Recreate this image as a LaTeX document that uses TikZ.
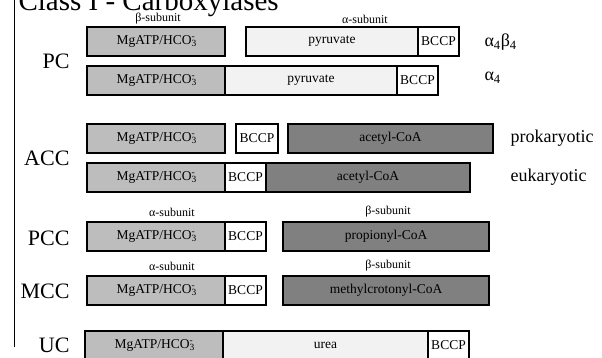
\documentclass[tikz,border=0pt]{standalone}
\usepackage{fontspec}
\setmainfont{Liberation Serif}
\usepackage{xcolor}
\usetikzlibrary{positioning}

\definecolor{mgfill}{gray}{0.74}
\definecolor{ltfill}{gray}{0.95}
\definecolor{dkfill}{gray}{0.50}

\newcommand{\mghco}{MgATP/HCO\rlap{\textsubscript{3}}\textsuperscript{-}}

\begin{document}
\begin{tikzpicture}[x=1pt,y=-1pt,
    dom/.style={draw,rectangle,anchor=north west,inner sep=0pt,outer sep=0pt,
        line width=1.6pt,minimum height=29pt,font=\fontsize{13.5}{15}\selectfont},
    mg/.style={dom,fill=mgfill},
    lt/.style={dom,fill=ltfill},
    bc/.style={dom,fill=white},
    dk/.style={dom,fill=dkfill},
    enz/.style={anchor=east,font=\fontsize{22}{24}\selectfont},
    note/.style={anchor=west,font=\fontsize{18}{20}\selectfont},
    sub/.style={font=\fontsize{12}{13}\selectfont}]

    \useasboundingbox (0,0) rectangle (602,357);

    % Title and margin line
    \node [anchor=base west,font=\fontsize{29}{32}\selectfont] at (15,10) (title) {Class I - Carboxylases};
    \coordinate (ltop) at (14,-2);
    \coordinate (lbot) at (14,347);
    \draw [line width=0.8pt] (ltop) -- (lbot);

    % PC
    \node [enz] at (73,61) (PC) {PC};
    \node [sub] at (158,19) (pcbeta) {β-subunit};
    \node [sub] at (365,19) (pcalpha) {α-subunit};
    \node [mg, minimum width=138pt] at (87,27) (pc1mg) {\mghco};
    \node [lt, minimum width=172pt] at (246,27) (pc1pyr) {pyruvate};
    \node [bc, minimum width=41pt] at (418,27) (pc1bc) {BCCP};
    \node [note] at (481,42) (ab) {α\textsubscript{4}β\textsubscript{4}};

    \node [mg, minimum width=138pt] at (87,66) (pc2mg) {\mghco};
    \node [lt, minimum width=172pt] at (225,66) (pc2pyr) {pyruvate};
    \node [bc, minimum width=41pt] at (397,66) (pc2bc) {BCCP};
    \node [note] at (481,78) (aa) {α\textsubscript{4}};

    % ACC
    \node [enz] at (73,158) (ACC) {ACC};
    \node [mg, minimum width=138pt] at (87,124) (acc1mg) {\mghco};
    \node [bc, minimum width=42pt] at (236,124) (acc1bc) {BCCP};
    \node [dk, minimum width=205pt] at (288,124) (acc1coa) {acetyl-CoA};
    \node [note] at (507,138) (prok) {prokaryotic};

    \node [mg, minimum width=138pt] at (87,163) (acc2mg) {\mghco};
    \node [bc, minimum width=41pt] at (225,163) (acc2bc) {BCCP};
    \node [dk, minimum width=204pt] at (266,163) (acc2coa) {acetyl-CoA};
    \node [note] at (507,177) (euk) {eukaryotic};

    % PCC
    \node [enz] at (73,238) (PCC) {PCC};
    \node [sub] at (172,212) (pccalpha) {α-subunit};
    \node [sub] at (388,212) (pccbeta) {β-subunit};
    \node [mg, minimum width=138pt] at (87,222) (pccmg) {\mghco};
    \node [bc, minimum width=41pt] at (225,222) (pccbc) {BCCP};
    \node [dk, minimum width=206pt] at (283,222) (pcccoa) {propionyl-CoA};

    % MCC
    \node [enz] at (73,291) (MCC) {MCC};
    \node [sub] at (172,266) (mccalpha) {α-subunit};
    \node [sub] at (388,266) (mccbeta) {β-subunit};
    \node [mg, minimum width=138pt] at (87,276) (mccmg) {\mghco};
    \node [bc, minimum width=41pt] at (225,276) (mccbc) {BCCP};
    \node [dk, minimum width=206pt] at (283,276) (mcccoa) {methylcrotonyl-CoA};

    % UC
    \node [enz] at (73,345) (UC) {UC};
    \node [mg, minimum width=138pt] at (85,331) (ucmg) {\mghco};
    \node [lt, minimum width=205pt] at (223,331) (ucurea) {urea};
    \node [bc, minimum width=41pt] at (428,331) (ucbc) {BCCP};

\end{tikzpicture}
\end{document}
